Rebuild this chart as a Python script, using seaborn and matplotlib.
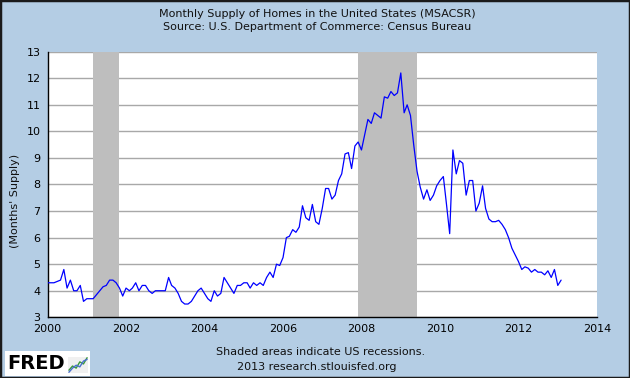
import numpy as np
import pandas as pd
import matplotlib
matplotlib.use("Agg")
import matplotlib.pyplot as plt
from matplotlib.patches import Rectangle
import seaborn as sns

# monthly supply of new homes, Jan 2000 onwards (months)
supply = [
    4.3, 4.3, 4.3, 4.35, 4.4, 4.8, 4.1, 4.4, 4.0, 4.0, 4.2, 3.6,        # 2000
    3.7, 3.7, 3.7, 3.85, 4.0, 4.15, 4.2, 4.4, 4.4, 4.3, 4.1, 3.8,       # 2001
    4.1, 4.0, 4.1, 4.3, 4.0, 4.2, 4.2, 4.0, 3.9, 4.0, 4.0, 4.0,         # 2002
    4.0, 4.5, 4.2, 4.1, 3.9, 3.6, 3.5, 3.5, 3.6, 3.8, 4.0, 4.1,         # 2003
    3.9, 3.7, 3.6, 4.0, 3.8, 3.9, 4.5, 4.3, 4.1, 3.9, 4.2, 4.2,         # 2004
    4.3, 4.3, 4.1, 4.3, 4.2, 4.3, 4.2, 4.5, 4.7, 4.5, 5.0, 4.95,        # 2005
    5.25, 6.0, 6.05, 6.3, 6.2, 6.4, 7.2, 6.75, 6.65, 7.25, 6.6, 6.5,    # 2006
    7.1, 7.85, 7.85, 7.45, 7.6, 8.15, 8.4, 9.15, 9.2, 8.6, 9.45, 9.6,   # 2007
    9.3, 9.9, 10.45, 10.3, 10.7, 10.6, 10.5, 11.3, 11.25, 11.5, 11.35, 11.45,  # 2008
    12.2, 10.7, 11.0, 10.6, 9.5, 8.5, 7.9, 7.45, 7.8, 7.4, 7.6, 7.95,   # 2009
    8.15, 8.3, 7.3, 6.15, 9.3, 8.4, 8.9, 8.8, 7.6, 8.15, 8.15, 7.0,     # 2010
    7.3, 7.95, 7.1, 6.7, 6.6, 6.6, 6.65, 6.5, 6.3, 6.0, 5.6, 5.35,      # 2011
    5.1, 4.8, 4.9, 4.85, 4.7, 4.8, 4.7, 4.7, 4.6, 4.75, 4.5, 4.8,       # 2012
    4.2, 4.4,                                                           # 2013
]
first_month = "2000-01-01"
recessions = [("2001-03-01", "2001-11-01"), ("2007-12-01", "2009-06-01")]
year_ticks = [2000, 2002, 2004, 2006, 2008, 2010, 2012, 2014]
y_ticks = [3, 4, 5, 6, 7, 8, 9, 10, 11, 12, 13]

title = "Monthly Supply of Homes in the United States (MSACSR)"
source = "Source: U.S. Department of Commerce: Census Bureau"
ylabel = "(Months' Supply)"
note1 = "Shaded areas indicate US recessions."
note2 = "2013 research.stlouisfed.org"

df = pd.DataFrame({
    "date": pd.date_range(first_month, periods=len(supply), freq="MS"),
    "supply": supply,
})

sns.set_style("white")
plt.rcParams["font.family"] = ["DejaVu Sans"]

bg = "#b4cde4"
fig = plt.figure(figsize=(6.3, 3.78), dpi=100, facecolor=bg)
ax = fig.add_axes([47.5 / 630, 1 - 317.3 / 378, 549.5 / 630, 265.6 / 378])
ax.set_facecolor("white")
ax.set_axisbelow(True)

# recessions
for start, end in recessions:
    ax.axvspan(pd.Timestamp(start), pd.Timestamp(end), color="#bebebe", lw=0, zorder=1)

ax.yaxis.grid(True, color="#a8a8a8", lw=1)
ax.xaxis.grid(False)

sns.lineplot(data=df, x="date", y="supply", color="#0000ff", lw=0.9, ax=ax, zorder=3)

ax.set_xlim(pd.Timestamp("2000-01-01"), pd.Timestamp("2014-01-01"))
ax.set_ylim(3, 13)
ax.set_xticks([pd.Timestamp(f"{y}-01-01") for y in year_ticks])
ax.set_xticklabels([str(y) for y in year_ticks])
ax.set_yticks(y_ticks)
ax.set_yticklabels([str(v) for v in y_ticks])
ax.tick_params(direction="in", length=5, width=1, color="black", labelsize=8,
               labelcolor="black", pad=5)
ax.set_xlabel("")
ax.set_ylabel("")
for side in ["top", "right"]:
    ax.spines[side].set_visible(False)
for side in ["left", "bottom"]:
    ax.spines[side].set_color("black")
    ax.spines[side].set_linewidth(1)

# texts
fig.text(0.503, 1 - 14 / 378, title, ha="center", va="center", fontsize=8, color="#111111")
fig.text(0.503, 1 - 27 / 378, source, ha="center", va="center", fontsize=8, color="#111111")
fig.text(15 / 630, 1 - 201 / 378, ylabel, rotation=90, ha="center", va="center",
         fontsize=8, color="#111111")
fig.text(321 / 630, 1 - 352 / 378, note1, ha="center", va="center", fontsize=8, color="#111111")
fig.text(317 / 630, 1 - 367 / 378, note2, ha="center", va="center", fontsize=8, color="#111111")

# FRED logo
fig.patches.append(Rectangle((5 / 630, 1 - 376 / 378), 85 / 630, 25 / 378,
                             transform=fig.transFigure, facecolor="white",
                             edgecolor="none", zorder=1))
fig.text(7 / 630, 1 - 363.5 / 378, "FRED", ha="left", va="center", fontsize=14,
         fontweight="bold", color="black", zorder=2)
logo_green = [1, 2, 1.5, 3, 2.5, 4]
logo_blue = [0.5, 1.5, 2.2, 1.8, 3.2, 3.6]
icon = fig.add_axes([68 / 630, 1 - 373 / 378, 20 / 630, 16 / 378])
icon.set_zorder(4)
icon.plot(logo_green, color="#3a9a3a", lw=1)
icon.plot(logo_blue, color="#4a6fd0", lw=1)
icon.set_facecolor("#f0f0f0")
icon.set_xticks([])
icon.set_yticks([])
for s in icon.spines.values():
    s.set_visible(False)

# outer frame
fig.patches.append(Rectangle((0, 0), 1, 1, transform=fig.transFigure, fill=False,
                             edgecolor="#1a1a1a", lw=2.5, zorder=5))

fig.savefig("out.png", dpi=100, facecolor=fig.get_facecolor())
